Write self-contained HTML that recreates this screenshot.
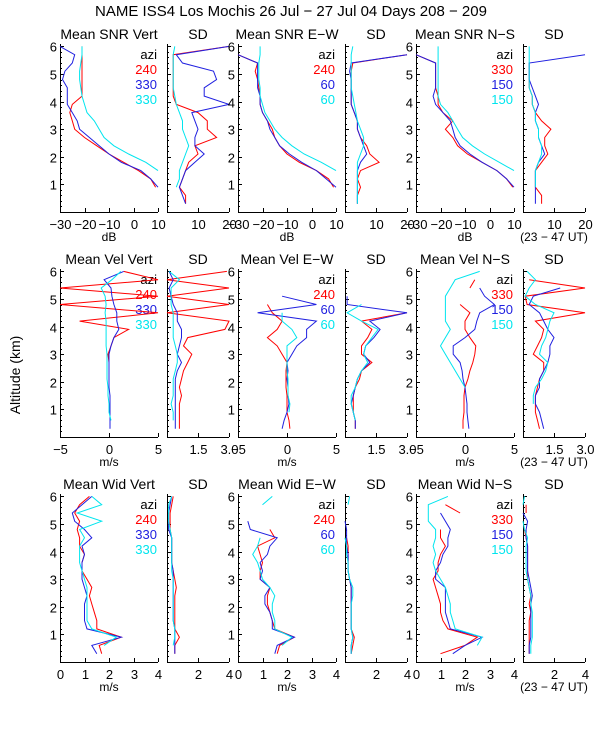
<!DOCTYPE html>
<html><head><meta charset="utf-8"><style>
body{margin:0;background:#fff;}
svg{display:block;font-family:"Liberation Sans",sans-serif;}
</style></head><body>
<svg id="c" width="600" height="750" viewBox="0 0 600 750" xmlns="http://www.w3.org/2000/svg">
<rect width="600" height="750" fill="#fff"/>
<text x="291" y="16" text-anchor="middle" font-size="15">NAME ISS4 Los Mochis  26 Jul − 27 Jul 04 Days 208 − 209</text>
<text transform="translate(20,375) rotate(-90)" text-anchor="middle" font-size="14">Altitude (km)</text>
</svg>
<script>
const ALT=[0.3,0.6,0.9,1.2,1.5,1.8,2.1,2.4,2.7,3.0,3.3,3.6,3.9,4.2,4.5,4.8,5.1,5.4,5.7,6.0];
const N=null;
const rowTitles=[["Mean SNR Vert","SD","Mean SNR E−W","SD","Mean SNR N−S","SD"],["Mean Vel Vert","SD","Mean Vel E−W","SD","Mean Vel N−S","SD"],["Mean Wid Vert","SD","Mean Wid E−W","SD","Mean Wid N−S","SD"]];
const rowUnits=["dB","m/s","m/s"];
const legendAzi=[["240","330","330"],["240","60","60"],["330","150","150"]];
const xRanges=[[[-30,10],[0,20]],[[-5,5],[0,3]],[[0,4],[0,4]]];
const xTicksMain=[[-30,-20,-10,0,10],[-5,0,5],[0,1,2,3,4]];
const xTickLabelsMain=[["−30","−20","−10","0","10"],["−5","0","5"],["0","1","2","3","4"]];
const xTicksSD=[[10,20],[1.5,3.0],[2,4]];
const xTickLabelsSD=[["10","20"],["1.5","3.0"],["2","4"]];

// row 1 SNR
const snrVertRed=[N,N,9,7,2,-4,-10,-15,-20,-24,-25,-26,-25,-21,-21,-21,-21,-21,-21,-21];
const snrVertBlue=[N,N,10,7,3,-5,-10,-14,-18,-22,-23,-25,-27,-27,-27,-29,-28,-25,-24,-30];
const snrVertCyan=[N,N,N,N,10,5,-2,-8,-12,-14,-16,-19,-20,-21,-21.5,-22,-22,-21.5,-21,-21];
const snrVertSDRed=[6,6,4,5,6,7,10,9,16,13,13,10,3,2,2,2,2,2,2,20];
const snrVertSDBlue=[6,5,4,5,6,9,12,9,9,10,9,8,20,12,12,16,15,5,3,20];
const snrVertSDCyan=[N,N,3,4,4,5,6,7,6,5,5,4,3,2.5,2,2,2,2,2,2.5];
const snrEWRed=[N,N,9,7,2,-5,-10,-13,-15,-16,-18,-20,-21,-21,-21.5,-22,-23,-22,-30,N];
const snrEWBlue=[N,N,10,6,2,-4,-9,-13,-15,-17,-18,-20,-21,-21,-22,-22,-22,-22,-30,N];
const snrEWCyan=[N,N,N,N,10,4,-3,-8,-12,-15,-17,-19,-20,-21,-21,-21.5,-21.5,-21.5,-21,-21];
const snrEWSDRed=[4,4,5,4,5,11,8,7,5,4,4,3,2,2,2,2,2,2.5,20,N];
const snrEWSDBlue=[4,4,4,4,4,5,7,6,5,4,4,3,2,2,2,2,1.5,2,20,N];
const snrEWSDCyan=[4,4,4,4,4,4,5,6,6,5,4,3.5,3,2.5,2,2,2,2,2,2.5];
const snrNSRed=[N,N,9.5,7,3,-3,-9,-13,-15,-18,-15,-19,-21,-21,-22,-22,-22,-22,-30,N];
const snrNSBlue=[N,N,10,7,3,-3,-8,-12,-14,-15,-16,-19,-22,-23,-22,-22,-22,-22,-30,N];
const snrNSCyan=[N,N,N,N,10,4,-2,-7,-11,-13,-15,-17,-20,-21,-21,-21,-21,-21,-21,-21];
const snrNSSDRed=[6,6,4,4,4,6,8,7,7,9,6,4,3,3,2,2,2,2,N,N];
const snrNSSDBlue=[4,4,4,4,4,5,7,6,5,5,4,4,5,4,3,2,2,2,20,N];
const snrNSSDCyan=[N,N,4,4,4,5,6,6,5,5,4,4,3,3,2,2,2,2,2,2];
// row 2 velocity
const velVertRed=[N,N,N,N,N,N,0,0,0,-0.1,0.2,0.5,2,-3,5,-5,5,-5,5,1.5];
const velVertBlue=[0.1,0.1,0.1,0.1,0.1,0,0,0,0,0,0.2,0.5,1,0.8,0.8,0.5,0.3,0.2,-0.5,1.5];
const velVertCyan=[N,0.2,0,0,-0.1,-0.1,-0.2,-0.2,-0.2,-0.2,-0.3,-0.3,-0.3,-0.3,-0.4,-0.3,-0.4,-0.8,0.3,1.2];
const velVertSDRed=[0.6,0.6,0.6,0.6,0.7,0.6,0.7,0.8,1.0,1.2,0.8,1.0,2.8,3,0,3,0,3,0,2.9];
const velVertSDBlue=[0.4,0.4,0.4,0.4,0.4,0.4,0.4,0.5,0.7,0.5,0.6,0.7,0.7,0.5,0.5,0.3,0.2,0.1,0.3,0.1];
const velVertSDCyan=[N,0.3,0.3,0.2,0.3,0.3,0.3,0.4,0.5,0.5,0.4,0.3,0.3,0.3,0.3,0.2,0.2,0.2,0.6,0.1];
const velEWRed=[0.3,0.2,0,0,0,-0.1,-0.1,-0.1,0,-0.5,-1,-2,-1,-0.5,-1.5,-2,N,N,N,N];
const velEWBlue=[-0.5,-0.3,0,0.2,0.1,0.1,0,0.1,0,0.5,1,2,2,3,-3,3,-0.5,N,N,N];
const velEWCyan=[N,N,0.2,0.3,0.1,0.1,0.1,0,0,0,0,1,0.5,-0.5,-0.5,N,N,N,N,2];
const velEWSDRed=[0.5,0.5,0.4,0.4,0.4,0.5,0.7,0.8,1.3,0.8,0.8,1.1,1.3,0.8,3,N,N,N,N,N];
const velEWSDBlue=[0.5,0.5,0.4,0.3,0.4,0.5,0.6,0.8,1.2,0.9,1.0,1.4,1.7,1.2,3,0.1,0.1,N,N,N];
const velEWSDCyan=[N,0.5,0.4,0.3,0.3,0.5,0.6,0.8,1.1,0.9,1.0,1.3,1.6,0.8,0.1,0.8,N,N,N,0.3];
const velNSRed=[-0.2,-0.2,-0.1,-0.1,-0.1,0,0.3,0.5,0.8,1.0,1.1,0.5,0,0,0.5,-0.5,N,0.5,1.0,N];
const velNSBlue=[0.4,0.3,0.2,0.2,0.1,0,-0.2,-0.3,-0.5,-1.2,-1.2,0,1,1.2,1.5,3,2,1.5,N,N];
const velNSCyan=[N,N,N,N,N,0,-0.5,-1,-1.5,-2,-2.5,-2,-1.5,-2,-2,-2,-2,-1.5,-1,1.5];
const velNSSDRed=[0.8,0.7,0.6,0.6,0.6,0.7,0.8,1.0,1.0,0.5,0.7,0.9,1.0,0.6,3.0,0.2,0.1,3.0,0.3,N];
const velNSSDBlue=[1.0,0.9,0.8,0.6,0.6,0.8,0.8,1.0,1.2,1.3,1.3,1.5,1.2,1.0,0.8,0.3,0.5,1.8,N,N];
const velNSSDCyan=[N,N,N,0.5,0.5,0.6,0.9,1.1,1.2,0.8,0.9,1.1,1.2,1.3,1.5,0.6,0.1,0.3,0.6,0.2];
// row 3 width
const widVertRed=[1.7,1.6,2.5,1.5,1.5,1.4,1.3,1.2,1.3,1.1,0.9,0.9,1.0,0.8,0.8,0.7,0.8,0.6,0.8,1.2];
const widVertBlue=[1.5,1.3,2.5,1.1,1.0,1.0,1.0,1.1,1.0,0.9,0.9,0.9,1.0,0.9,1.3,1.0,0.6,0.5,0.9,1.3];
const widVertCyan=[N,1.8,2.3,1.3,1.1,1.1,1.1,1.1,1.1,1.0,0.9,0.8,0.8,0.8,1.0,0.8,1.7,0.7,1.7,1.3];
const widVertSDRed=[0.5,0.5,0.8,0.5,0.5,0.5,0.5,0.5,0.6,0.5,0.4,0.3,0.3,0.3,0.3,0.2,0.2,0.2,0.3,0.4];
const widVertSDBlue=[0.5,0.5,0.5,0.5,0.4,0.4,0.4,0.4,0.4,0.4,0.4,0.3,0.3,0.3,0.3,0.1,0.1,0.1,0.2,0.3];
const widVertSDCyan=[N,0.4,0.5,0.5,0.4,0.4,0.4,0.4,0.4,0.4,0.3,0.3,0.3,0.3,0.3,0.2,0.1,0.1,0.1,0.3];
const widEWRed=[1.6,1.7,2.3,1.5,1.4,1.3,1.2,1.2,1.3,0.9,0.9,1.0,0.9,0.8,1.5,1.3,N,N,N,N];
const widEWBlue=[1.5,1.6,2.3,1.4,1.4,1.3,1.1,1.1,1.3,0.9,1.0,0.9,1.2,1.3,1.6,0.5,0.4,N,N,N];
const widEWCyan=[N,1.8,2.2,1.5,1.5,1.4,1.4,1.5,1.3,1.0,0.9,0.8,0.6,0.8,0.9,N,N,N,1.0,1.4];
const widEWSDRed=[0.4,0.5,0.6,0.4,0.4,0.4,0.4,0.4,0.4,0.3,0.2,0.2,0.2,0.2,0.1,N,N,N,N,N];
const widEWSDBlue=[0.4,0.4,0.5,0.4,0.4,0.4,0.4,0.4,0.4,0.3,0.2,0.2,0.2,0.1,0.1,0.1,0.0,N,N,N];
const widEWSDCyan=[0.4,0.4,0.5,0.4,0.4,0.4,0.4,0.5,0.5,0.3,0.2,0.2,0.1,0.1,0.0,N,N,N,0.2,0.3];
const widNSRed=[1.0,2.0,2.5,1.3,1.1,1.0,1.0,0.9,0.8,0.7,0.9,0.9,1.0,1.2,1.0,1.0,N,1.8,1.2,N];
const widNSBlue=[1.5,2.0,2.7,1.4,1.3,1.2,1.2,1.2,1.2,0.8,0.8,1.0,1.1,1.3,1.3,1.4,1.2,1.0,N,N];
const widNSCyan=[N,2.5,2.7,1.6,1.5,1.4,1.4,1.3,1.2,1.0,0.8,0.7,0.8,0.7,0.8,0.8,0.5,0.5,0.5,1.3];
const widNSSDRed=[0.4,0.4,0.4,0.4,0.4,0.5,0.4,0.5,0.4,0.3,0.3,0.3,0.3,0.3,0.2,0.1,N,0.2,0.2,N];
const widNSSDBlue=[0.4,0.4,0.5,0.5,0.5,0.5,0.5,0.6,0.5,0.4,0.3,0.3,0.3,0.3,0.2,0.2,0.3,0.0,N,N];
const widNSSDCyan=[0.5,0.5,0.6,0.6,0.6,0.6,0.5,0.5,0.4,0.3,0.2,0.2,0.2,0.2,0.3,0.1,0.0,N,0.0,0.1];

const series=[
 [[snrVertRed,snrVertBlue,snrVertCyan],[snrVertSDRed,snrVertSDBlue,snrVertSDCyan],[snrEWRed,snrEWBlue,snrEWCyan],[snrEWSDRed,snrEWSDBlue,snrEWSDCyan],[snrNSRed,snrNSBlue,snrNSCyan],[snrNSSDRed,snrNSSDBlue,snrNSSDCyan]],
 [[velVertRed,velVertBlue,velVertCyan],[velVertSDRed,velVertSDBlue,velVertSDCyan],[velEWRed,velEWBlue,velEWCyan],[velEWSDRed,velEWSDBlue,velEWSDCyan],[velNSRed,velNSBlue,velNSCyan],[velNSSDRed,velNSSDBlue,velNSSDCyan]],
 [[widVertRed,widVertBlue,widVertCyan],[widVertSDRed,widVertSDBlue,widVertSDCyan],[widEWRed,widEWBlue,widEWCyan],[widEWSDRed,widEWSDBlue,widEWSDCyan],[widNSRed,widNSBlue,widNSCyan],[widNSSDRed,widNSSDBlue,widNSSDCyan]]
];
const colors=["#ff0000","#2020e0","#00e5ee"];
const colorNames=["red","blue","cyan"];
const lefts=[60,167,238,345,416,523], widths=[98,62,98,62,98,62];
const bottoms=[212,437,662], PXKM=27.6;
const svg=document.getElementById('c');
const NS='http://www.w3.org/2000/svg';
function mk(tag,attrs,parent){const e=document.createElementNS(NS,tag);for(const k in attrs)e.setAttribute(k,attrs[k]);(parent||svg).appendChild(e);return e;}
function txt(s,attrs,parent){const e=mk('text',attrs,parent);e.textContent=s;return e;}

for(let r=0;r<3;r++){
 const bot=bottoms[r], top=bot-168;
 const yS=a=>bot-a*PXKM;
 for(let c=0;c<6;c++){
  const L=lefts[c],W=widths[c],isSD=c%2===1;
  const rng=xRanges[r][isSD?1:0];
  const xS=v=>L+(v-rng[0])/(rng[1]-rng[0])*W;
  const g=mk('g',{});
  
  
  const t=txt(rowTitles[r][c],{x:L+W/2,y:top-5,'text-anchor':'middle','font-size':14},g);
  
  
  const ax=mk('path',{d:`M${L+0.5},${top}V${bot+0.5}H${L+W}`,stroke:'#000',fill:'none','stroke-width':1},g);
  
  
  for(let k=1;k<=30;k++){const a=k*0.2;const y=Math.round(yS(a))+0.5;const maj=k%5===0;
   mk('line',{x1:L,x2:L+(maj?4:2),y1:y,y2:y,stroke:'#000','stroke-width':1},g);
   if(maj&&!isSD){const tl=txt(String(k/5),{x:L-3,y:y+5,'text-anchor':'end','font-size':13},g);
    
    }
  }
  const tv=isSD?xTicksSD[r]:xTicksMain[r], tlab=isSD?xTickLabelsSD[r]:xTickLabelsMain[r];
  tv.forEach((v,i)=>{const x=Math.round(xS(v))+0.5;
   mk('line',{x1:x,x2:x,y1:bot,y2:bot-4,stroke:'#000','stroke-width':1},g);
   const xl=txt(tlab[i],{x:x,y:bot+17,'text-anchor':'middle','font-size':13},g);
   
   });
  if(!isSD){const u=txt(rowUnits[r],{x:L+W/2,y:bot+29,'text-anchor':'middle','font-size':12},g);
   
   
   const la=txt('azi',{x:L+W-1,y:top+15,'text-anchor':'end','font-size':13},g);
   
   
   legendAzi[c/2].forEach((s,i)=>{const le=txt(s,{x:L+W-1,y:top+30+15*i,'text-anchor':'end','font-size':13,fill:colors[i]},g);
    
    });
  }
  series[r][c].forEach((vals,si)=>{
   let d='',pen=false;
   vals.forEach((v,i)=>{if(v===null){pen=false;return;}const x=xS(Math.max(rng[0],Math.min(rng[1],v))),y=yS(ALT[i]);d+=(pen?'L':'M')+x.toFixed(1)+','+y.toFixed(1);pen=true;});
   const p=mk('path',{d:d,stroke:colors[si],fill:'none','stroke-width':1},g);
   
   
  });
 }
 const ut=txt('(23 − 47 UT)',{x:554,y:bot+29,'text-anchor':'middle','font-size':12});
 
 
}
</script>
</body></html>
